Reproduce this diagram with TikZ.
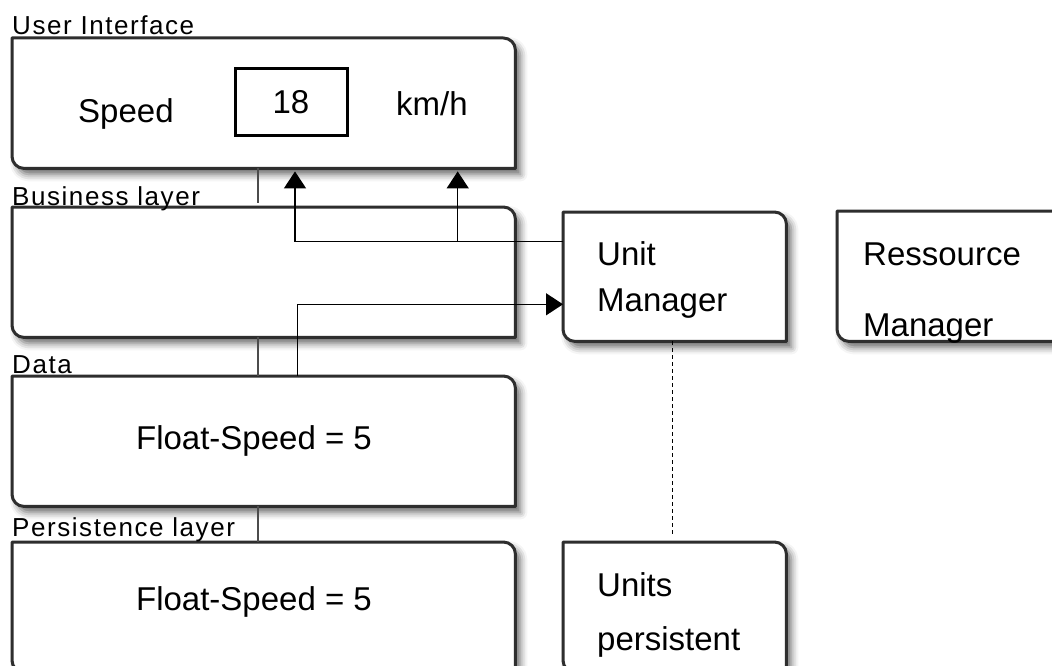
\documentclass[tikz,border=0pt]{standalone}
\usepackage{fontspec}
\setmainfont{Liberation Sans}
\newfontfamily\lblfont[LetterSpace=6]{Liberation Sans}
\usetikzlibrary{arrows.meta,shadows.blur,calc}

% outline of a layer box: square top-left/bottom-right, rounded top-right/bottom-left
\newcommand\layerbox[1]{%
  \path[boxline]
    (#1.north west) -- ([xshift=-12pt]#1.north east)
    arc[start angle=90,end angle=0,radius=12pt]
    -- (#1.south east) -- ([xshift=12pt]#1.south west)
    arc[start angle=270,end angle=180,radius=12pt] -- cycle;}

\begin{document}
\begin{tikzpicture}[x=1pt,y=-1pt,
  frame/.style={rectangle, inner sep=0pt, anchor=north west},
  boxline/.style={draw=black!82, line width=3pt, fill=white, line join=round,
    blur shadow={shadow xshift=5pt, shadow yshift=-6pt, shadow blur radius=7pt, shadow opacity=60}},
  txt/.style={anchor=base west, inner sep=0pt, font=\fontsize{33}{40}\selectfont},
  lbl/.style={anchor=base west, inner sep=0pt, font=\lblfont\fontsize{26}{31}\selectfont},
  link/.style={draw=black, line width=1.3pt},
  tie/.style={draw=black!70, line width=1.2pt},
  arr/.style={link, -{Triangle[width=22pt,length=17pt]}},
  dep/.style={draw=black, line width=1pt, dash pattern=on 4pt off 3pt},
]
\useasboundingbox (0,0) rectangle (1052,666);

% layer frames
\node[frame, minimum width=503pt, minimum height=130pt] (ui)   at (12,38)  {};
\node[frame, minimum width=503pt, minimum height=130pt] (bl)   at (12,207) {};
\node[frame, minimum width=503pt, minimum height=130pt] (data) at (12,376) {};
\node[frame, minimum width=503pt, minimum height=130pt] (pers) at (12,542) {};
% side components
\node[frame, minimum width=223pt, minimum height=129pt] (um) at (563,212) {};
\node[frame, minimum width=233pt, minimum height=130pt] (rm) at (837,211) {};
\node[frame, minimum width=223pt, minimum height=130pt] (up) at (563,542) {};

\layerbox{ui}
\layerbox{bl}
\layerbox{data}
\layerbox{pers}
\layerbox{um}
\layerbox{rm}
\layerbox{up}

% layer titles
\node[lbl] (uilbl)   at (12,35)  {User Interface};
\node[lbl] (bllbl)   at (12,205) {Business layer};
\node[lbl] (datalbl) at (12,373) {Data};
\node[lbl] (perslbl) at (12,536) {Persistence layer};

% contents
\node[txt] (speed) at (78,122.7) {Speed};
\node[draw=black, line width=3pt, minimum width=112pt, minimum height=67pt,
      inner sep=0pt, font=\fontsize{33}{40}\selectfont] (val) at (291,102.5) {18};
\node[txt] (kmh) at (396,116) {km/h};
\node[txt, anchor=base] (dval) at (254,449) {Float-Speed = 5};
\node[txt, anchor=base] (pval) at (254,610) {Float-Speed = 5};
\node[txt] (umt1) at (597,265.7) {Unit};
\node[txt] (umt2) at (597,311.7) {Manager};
\node[txt] (rmt1) at (863,265.7) {Ressource};
\node[txt] (rmt2) at (863,336) {Manager};
\node[txt] (upt1) at (597,596.7) {Units};
\node[txt] (upt2) at (597,650.7) {persistent};

% layer ties
\coordinate (s) at (258,0);
\draw[tie] (s |- ui.south) -- ([yshift=4pt]s |- bl.north);
\draw[tie] (s |- bl.south) -- (s |- data.north);
\draw[tie] (s |- data.south) -- (s |- pers.north);

% unit manager feeds the user interface
\coordinate (j1) at (295,241.7);
\coordinate (j2) at (457.7,241.7);
\draw[arr, shorten >=3pt] (um.west |- j1) -- (j1) -- (j1 |- ui.south);
\draw[arr, shorten >=3pt] (j2) -- (j2 |- ui.south);

% data goes to the unit manager
\coordinate (k1) at (297.7,304.3);
\draw[arr] (k1 |- data.north) -- (k1) -- (k1 -| um.west);

% unit manager depends on persisted units
\coordinate (d) at (672.7,0);
\draw[dep] (d |- um.south) -- ([yshift=7pt]d |- up.north);
\end{tikzpicture}
\end{document}
